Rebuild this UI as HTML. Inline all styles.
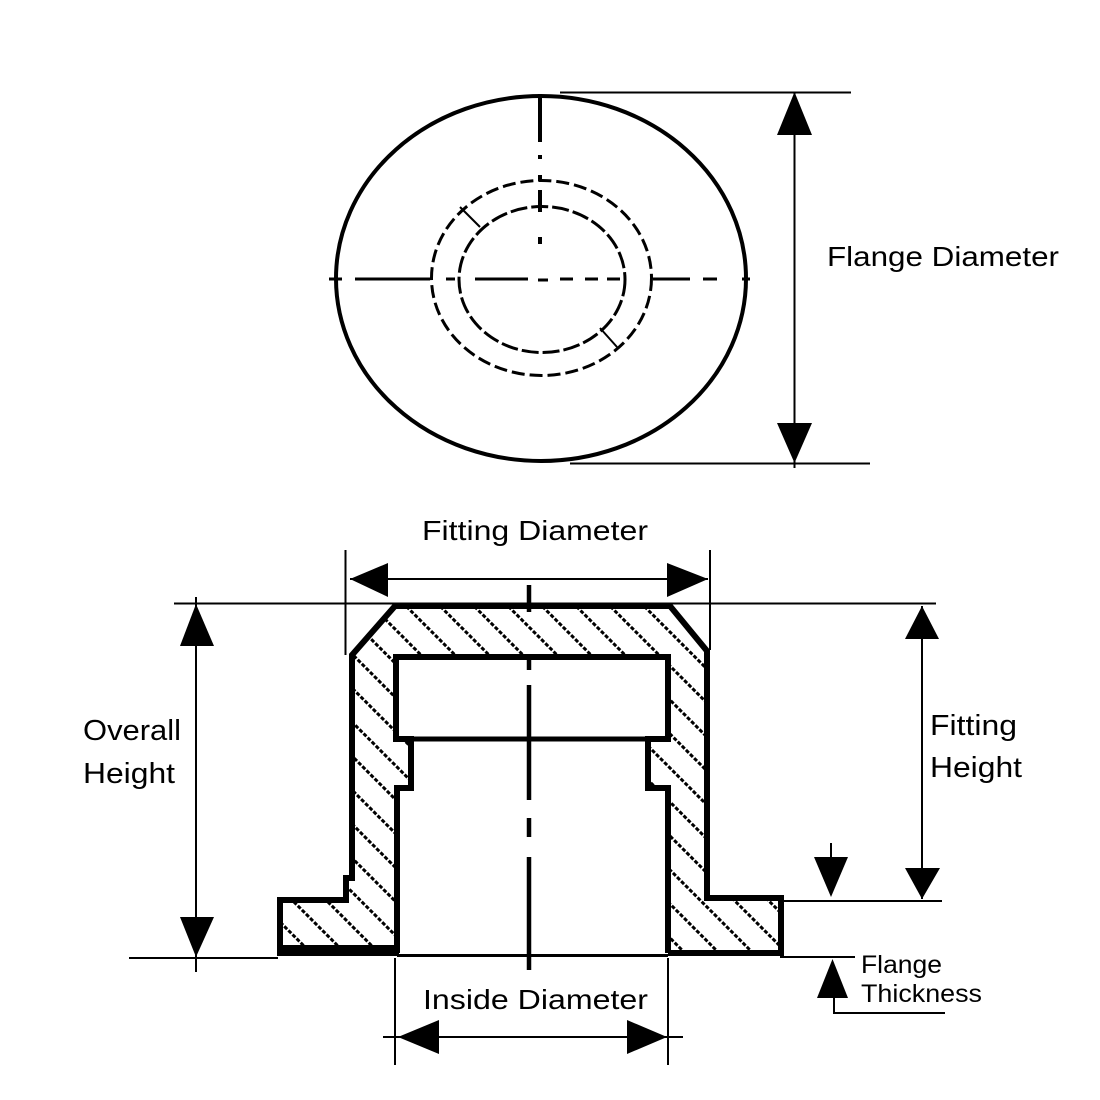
<!DOCTYPE html>
<html>
<head>
<meta charset="utf-8">
<style>
  html, body { margin:0; padding:0; background:#fff; }
  svg { display:block; }
  text { font-family: "Liberation Sans", "DejaVu Sans", sans-serif; fill:#000; }
</style>
</head>
<body>
<svg width="1100" height="1100" viewBox="0 0 1100 1100" xmlns="http://www.w3.org/2000/svg">
  <defs>
    <clipPath id="body">
      <path clip-rule="evenodd"
        d="M280,900 L346,900 L346,878 L352,878 L352,655 L395,606 L670,606 L707,651 L707,898 L781,898 L781,953 L280,953 Z
           M396,657 L668,657 L668,739 L648,739 L648,788 L668,788 L668,953 L397,953 L397,788 L411,788 L411,739 L396,739 Z"/>
    </clipPath>
  </defs>
  <rect width="1100" height="1100" fill="#fff"/>

  <!-- ================= TOP VIEW ================= -->
  <ellipse cx="541" cy="278.5" rx="205" ry="182.5" fill="none" stroke="#000" stroke-width="4"/>
  <ellipse cx="541.5" cy="278" rx="110" ry="97.5" fill="none" stroke="#000" stroke-width="3" stroke-dasharray="13 5"/>
  <ellipse cx="542" cy="279.5" rx="83" ry="73" fill="none" stroke="#000" stroke-width="3" stroke-dasharray="17 4"/>
  <line x1="460" y1="207" x2="480" y2="227" stroke="#000" stroke-width="2"/>
  <line x1="600" y1="328" x2="617" y2="347" stroke="#000" stroke-width="2"/>
  <g stroke="#000" stroke-width="3">
    <line x1="329" y1="279" x2="342" y2="279"/>
    <line x1="355" y1="279" x2="430" y2="279"/>
    <line x1="446" y1="279" x2="455" y2="279"/>
    <line x1="475" y1="279" x2="528" y2="279"/>
    <line x1="538" y1="280" x2="548" y2="280"/>
    <line x1="560" y1="279" x2="573" y2="279"/>
    <line x1="585" y1="279" x2="598" y2="279"/>
    <line x1="607" y1="279" x2="620" y2="279"/>
    <line x1="653" y1="279" x2="690" y2="279"/>
    <line x1="703" y1="279" x2="717" y2="279"/>
    <line x1="742" y1="279" x2="750" y2="279"/>
  </g>
  <g stroke="#000" stroke-width="4">
    <line x1="540" y1="94" x2="540" y2="142"/>
    <line x1="540" y1="155" x2="540" y2="159"/>
    <line x1="540" y1="175" x2="540" y2="181"/>
    <line x1="540" y1="190" x2="540" y2="212"/>
    <line x1="540" y1="237" x2="540" y2="244"/>
  </g>
  <line x1="560" y1="92.5" x2="851" y2="92.5" stroke="#000" stroke-width="2"/>
  <line x1="570" y1="463.5" x2="870" y2="463.5" stroke="#000" stroke-width="2"/>
  <line x1="794.5" y1="92" x2="794.5" y2="468" stroke="#000" stroke-width="2"/>
  <polygon points="794.5,92 777,135 812,135" fill="#000"/>
  <polygon points="794.5,463 777,423 812,423" fill="#000"/>
  <text x="827" y="266" font-size="28" textLength="232" lengthAdjust="spacingAndGlyphs">Flange Diameter</text>

  <!-- ================= SECTION VIEW ================= -->
  <!-- hatch lines -->
  <g clip-path="url(#body)">
    <path fill="none" stroke="#000" stroke-width="3" stroke-dasharray="4 1.8"
      d="M-86,590 L294,970 M-52,590 L328,970 M-18,590 L362,970 M16,590 L396,970
         M50,590 L430,970 M84,590 L464,970 M118,590 L498,970 M152,590 L532,970
         M186,590 L566,970 M220,590 L600,970 M254,590 L634,970 M288,590 L668,970
         M322,590 L702,970 M356,590 L736,970 M390,590 L770,970 M424,590 L804,970
         M458,590 L838,970 M492,590 L872,970 M526,590 L906,970 M560,590 L940,970
         M594,590 L974,970 M628,590 L1008,970 M662,590 L1042,970 M696,590 L1076,970
         M730,590 L1110,970 M764,590 L1144,970"/>
  </g>
  <!-- outer outline -->
  <path fill="none" stroke="#000" stroke-width="6" stroke-linejoin="miter"
        d="M397,952 L280,952 L280,900 L346,900 L346,878 L352,878 L352,655 L395,606 L670,606 L707,651 L707,898 L781,898 L781,953 L668,953"/>
  <rect x="277" y="945" width="122" height="11" fill="#000"/>
  <!-- inner bore outline -->
  <path fill="none" stroke="#000" stroke-width="6"
        d="M397,953 L397,788 L411,788 L411,739 L396,739 L396,657 L668,657 L668,739 L648,739 L648,788 L668,788 L668,953"/>
  <line x1="396" y1="739" x2="668" y2="739" stroke="#000" stroke-width="5"/>
  <line x1="397" y1="955.5" x2="668" y2="955.5" stroke="#000" stroke-width="3"/>

  <!-- center line section -->
  <g stroke="#000" stroke-width="4.5">
    <line x1="529" y1="585" x2="529" y2="612"/>
    <line x1="529" y1="655" x2="529" y2="670"/>
    <line x1="529" y1="685" x2="529" y2="800"/>
    <line x1="529" y1="818" x2="529" y2="837"/>
    <line x1="529" y1="857" x2="529" y2="970"/>
  </g>

  <line x1="174" y1="603.5" x2="936" y2="603.5" stroke="#000" stroke-width="2"/>
  <line x1="129" y1="958" x2="278" y2="958" stroke="#000" stroke-width="2"/>

  <!-- Fitting Diameter -->
  <line x1="345.5" y1="550" x2="345.5" y2="655" stroke="#000" stroke-width="2"/>
  <line x1="710" y1="550" x2="710" y2="650" stroke="#000" stroke-width="2"/>
  <line x1="350" y1="579" x2="708" y2="579" stroke="#000" stroke-width="2"/>
  <polygon points="350,579 388,563 388,597" fill="#000"/>
  <polygon points="708,579 667,563 667,597" fill="#000"/>
  <text x="422" y="540" font-size="28" textLength="226" lengthAdjust="spacingAndGlyphs">Fitting Diameter</text>

  <!-- Overall Height -->
  <line x1="196" y1="597" x2="196" y2="972" stroke="#000" stroke-width="2"/>
  <polygon points="196,604 180,646 214,646" fill="#000"/>
  <polygon points="196,957 180,917 214,917" fill="#000"/>
  <text x="83" y="740" font-size="29" textLength="98" lengthAdjust="spacingAndGlyphs">Overall</text>
  <text x="83" y="783" font-size="29" textLength="92" lengthAdjust="spacingAndGlyphs">Height</text>

  <!-- Fitting Height -->
  <line x1="922" y1="606" x2="922" y2="899" stroke="#000" stroke-width="2"/>
  <polygon points="922,606 905,639 939,639" fill="#000"/>
  <polygon points="922,899 905,868 940,868" fill="#000"/>
  <line x1="780" y1="901" x2="942" y2="901" stroke="#000" stroke-width="2"/>
  <text x="930" y="735" font-size="29" textLength="87" lengthAdjust="spacingAndGlyphs">Fitting</text>
  <text x="930" y="777" font-size="29" textLength="92" lengthAdjust="spacingAndGlyphs">Height</text>

  <!-- Flange Thickness -->
  <line x1="831" y1="843" x2="831" y2="858" stroke="#000" stroke-width="2"/>
  <polygon points="831,897 814,857 848,857" fill="#000"/>
  <line x1="780" y1="957" x2="855" y2="957" stroke="#000" stroke-width="2"/>
  <polygon points="832.5,959 817,998 848,998" fill="#000"/>
  <polyline points="834,997 834,1013 945,1013" fill="none" stroke="#000" stroke-width="2"/>
  <text x="861" y="973" font-size="25" textLength="81" lengthAdjust="spacingAndGlyphs">Flange</text>
  <text x="861" y="1002" font-size="25" textLength="121" lengthAdjust="spacingAndGlyphs">Thickness</text>

  <!-- Inside Diameter -->
  <line x1="395" y1="958" x2="395" y2="1065" stroke="#000" stroke-width="2"/>
  <line x1="668" y1="958" x2="668" y2="1065" stroke="#000" stroke-width="2"/>
  <line x1="383" y1="1037" x2="683" y2="1037" stroke="#000" stroke-width="2"/>
  <polygon points="398,1037 439,1020 439,1054" fill="#000"/>
  <polygon points="667,1037 627,1020 627,1054" fill="#000"/>
  <text x="423" y="1009" font-size="28" textLength="225" lengthAdjust="spacingAndGlyphs">Inside Diameter</text>
</svg>
</body>
</html>
